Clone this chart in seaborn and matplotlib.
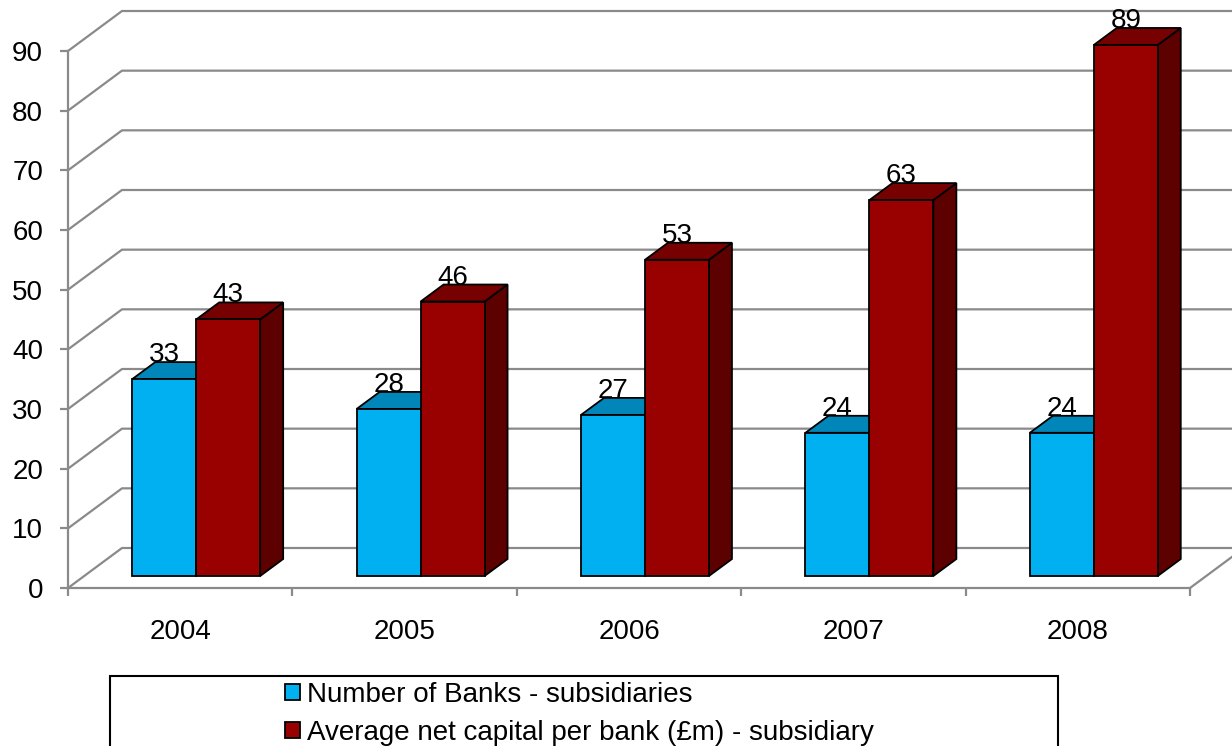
import numpy as np
import pandas as pd
import matplotlib
matplotlib.use("Agg")
import matplotlib.pyplot as plt
import seaborn as sns
from matplotlib.patches import Polygon, Rectangle, Patch
from matplotlib.transforms import ScaledTranslation

# ---- data ----
years = ["2004", "2005", "2006", "2007", "2008"]
banks = [33, 28, 27, 24, 24]
capital = [43, 46, 53, 63, 89]
series_names = ["Number of Banks - subsidiaries",
                "Average net capital per bank (£m) - subsidiary"]
y_ticks = [0, 10, 20, 30, 40, 50, 60, 70, 80, 90]

df = pd.DataFrame({
    "year": years * 2,
    "value": banks + capital,
    "series": [series_names[0]] * len(years) + [series_names[1]] * len(years),
})

# ---- style ----
FRONT = ["#00B0F0", "#990000"]
TOP = ["#0086B8", "#770000"]
SIDE = ["#00668C", "#5C0000"]
GRID = "#8A8A8A"
FS = 20

sns.set_style("white")
plt.rcParams["font.family"] = ["Liberation Sans", "DejaVu Sans"]
plt.rcParams["text.color"] = "black"

DPI = 100
W, H = 1232, 746
fig = plt.figure(figsize=(W / DPI, H / DPI), dpi=DPI)
ax = fig.add_axes([68 / W, 158 / H, 1122 / W, 537 / H])

sns.barplot(data=df, x="year", y="value", hue="series", palette=FRONT,
            saturation=1, width=0.57, edgecolor="black", linewidth=1.3,
            legend=False, ax=ax)
ax.set_xlim(-0.5, len(years) - 0.5)
ax.set_ylim(0, 90)
ax.set_xlabel("")
ax.set_ylabel("")


def px_to_data(dx, dy):
    """Convert a pixel displacement into a data-space displacement."""
    p0 = ax.transData.transform((0, 0))
    x, y = ax.transData.inverted().transform((p0[0] + dx, p0[1] + dy))
    return x, y


# oblique depth: back wall, bar plane and bar depth (pixels)
back_dx, back_dy = px_to_data(54, 40)
depth_dx, depth_dy = px_to_data(23, 17)
bar_tf = ax.transData + ScaledTranslation(16 / DPI, 12 / DPI, fig.dpi_scale_trans)

# back wall gridlines with left-wall diagonals
x_lo, x_hi = -0.5, len(years) - 0.5
for v in y_ticks:
    ax.plot([x_lo, x_lo + back_dx, x_hi + back_dx], [v, v + back_dy, v + back_dy],
            color=GRID, lw=1.6, clip_on=False, zorder=0.5, solid_capstyle="butt")
# right floor edge
ax.plot([x_hi, x_hi + back_dx], [0, back_dy], color=GRID, lw=1.6,
        clip_on=False, zorder=0.5)

# 3D boxes from the seaborn bars
values = [banks, capital]
for k, cont in enumerate(ax.containers):
    for i, rect in enumerate(cont.patches):
        x0, w, h = rect.get_x(), rect.get_width(), rect.get_height()
        rect.set_transform(bar_tf)
        rect.set_clip_on(False)
        rect.set_zorder(2.2 + k)
        side = Polygon([(x0 + w, 0), (x0 + w + depth_dx, depth_dy),
                        (x0 + w + depth_dx, h + depth_dy), (x0 + w, h)],
                       closed=True, facecolor=SIDE[k], edgecolor="black",
                       lw=1.3, transform=bar_tf, clip_on=False, zorder=2.0 + k)
        top = Polygon([(x0, h), (x0 + w, h), (x0 + w + depth_dx, h + depth_dy),
                       (x0 + depth_dx, h + depth_dy)],
                      closed=True, facecolor=TOP[k], edgecolor="black",
                      lw=1.3, transform=bar_tf, clip_on=False, zorder=2.1 + k)
        ax.add_patch(side)
        ax.add_patch(top)
        ax.text(x0 + w / 2, h + depth_dy, str(values[k][i]), transform=bar_tf,
                ha="center", va="baseline", fontsize=FS, color="black",
                zorder=6, clip_on=False)

# axes frame
for s in ["top", "right"]:
    ax.spines[s].set_visible(False)
for s in ["left", "bottom"]:
    ax.spines[s].set_color(GRID)
    ax.spines[s].set_linewidth(1.6)
    ax.spines[s].set_zorder(0.6)

ax.set_yticks(y_ticks)
ax.set_yticklabels([str(v) for v in y_ticks])
ax.tick_params(axis="y", length=6, width=1.6, color=GRID, pad=12,
               labelsize=FS, labelcolor="black", left=True)
ax.set_xticks(range(len(years)))
ax.set_xticklabels(years)
ax.set_xticks(np.arange(-0.5, len(years), 1.0), minor=True)
ax.tick_params(axis="x", which="major", length=0, pad=22, labelsize=FS,
               labelcolor="black")
ax.tick_params(axis="x", which="minor", length=6, width=1.6, color=GRID,
               bottom=True)

# legend box
fig.add_artist(Rectangle((110 / W, -0.05), (1058 - 110) / W, (746 - 676) / H + 0.05,
                         transform=fig.transFigure, fill=False,
                         edgecolor="black", lw=1.5))
handles = [Patch(facecolor=FRONT[k], edgecolor="black", lw=1.3) for k in range(2)]
fig.legend(handles, series_names, loc="upper left",
           bbox_to_anchor=(285 / W, (746 - 682) / H), frameon=False,
           fontsize=FS, labelcolor="black", handlelength=0.54, handleheight=0.54,
           handletextpad=0.26, labelspacing=0.43, borderpad=0, borderaxespad=0)

fig.savefig("out.png", dpi=DPI)
